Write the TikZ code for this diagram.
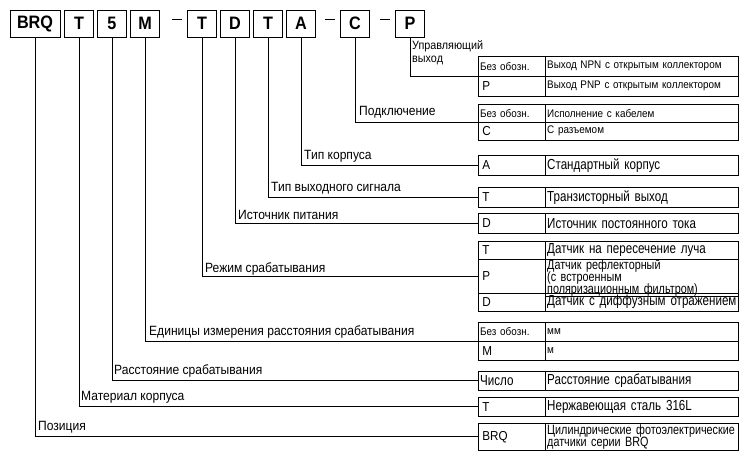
\documentclass[tikz,border=0pt]{standalone}
\usepackage{fontspec}
\setmainfont{Liberation Sans}[FakeStretch=0.9]
\newfontfamily\narrowfont{Liberation Sans}[FakeStretch=0.8]
\usetikzlibrary{positioning}

\begin{document}
\begin{tikzpicture}[x=1pt,y=-1pt,
	code/.style={draw,thick,minimum width=29pt,minimum height=27pt,inner sep=0pt,font=\fontsize{18}{18}\selectfont\bfseries},
	cl/.style={draw,anchor=north west,minimum width=67pt,inner sep=2pt,text width=63pt,align=left,font=\fontsize{11}{10}\selectfont},
	cr/.style={draw,anchor=north west,minimum width=193pt,inner sep=2pt,text width=189pt,align=left,font=\fontsize{11}{10}\selectfont},
	big/.style={font=\fontsize{13}{13}\selectfont},
	wide/.style={font=\narrowfont\fontsize{14.5}{15}\selectfont},
	multi/.style={inner ysep=0pt,font=\narrowfont\fontsize{13.5}{10}\selectfont},
	lab/.style={anchor=south west,inner sep=1pt,font=\fontsize{13.4}{13}\selectfont},
	lead/.style={semithick}]
	\useasboundingbox (0,0) rectangle (746,456);
	% code boxes
	\node[code,minimum width=50pt] (brq) at (35,23.5) {BRQ};
	\node[code] (k1) at (79,23.5) {T};
	\node[code] (k2) at (112,23.5) {5};
	\node[code] (k3) at (145,23.5) {M};
	\node[code] (k4) at (202,23.5) {T};
	\node[code] (k5) at (235,23.5) {D};
	\node[code] (k6) at (268,23.5) {T};
	\node[code] (k7) at (301,23.5) {A};
	\node[code] (k8) at (355,23.5) {C};
	\node[code] (k9) at (410,23.5) {P};
	\draw (172,19) -- (182,19) (325,19) -- (335,19) (380,19) -- (390,19);
	% tables
	\node[cl,minimum height=20pt] (a1) at (478,56) {Без обозн.};
	\node[cr,minimum height=20pt] (b1) at (545,56) {\mbox{Выход NPN с открытым коллектором}};
	\node[cl,minimum height=20pt,big] (a2) at (478,76) {\,P};
	\node[cr,minimum height=20pt] (b2) at (545,76) {\mbox{Выход PNP с открытым коллектором}};
	\node[cl,minimum height=18pt] (c1) at (478,104) {Без обозн.};
	\node[cr,minimum height=18pt] (d1) at (545,104) {Исполнение с кабелем};
	\node[cl,minimum height=18pt,big] (c2) at (478,122) {\,C};
	\node[cr,minimum height=18pt] (d2) at (545,122) {С разъемом};
	\node[cl,minimum height=20pt,big] (e1) at (478,155) {\,A};
	\node[cr,minimum height=20pt,wide] (f1) at (545,155) {Стандартный корпус};
	\node[cl,minimum height=20pt,big] (g1) at (478,187) {\,T};
	\node[cr,minimum height=20pt,wide] (h1) at (545,187) {Транзисторный выход};
	\node[cl,minimum height=20pt,big] (i1) at (478,213) {\,D};
	\node[cr,minimum height=20pt,wide] (j1) at (545,213) {\mbox{Источник постоянного тока}};
	\node[cl,minimum height=18pt,big] (m1) at (478,241) {\,T};
	\node[cr,minimum height=18pt,wide] (n1) at (545,241) {\mbox{Датчик на пересечение луча}};
	\node[cl,minimum height=34pt,big] (m2) at (478,259) {\,P};
	\node[cr,minimum height=34pt,multi] (n2) at (545,259) {\mbox{Датчик рефлекторный}\\[-1.5pt]\mbox{(с встроенным}\\[-1.5pt]\mbox{поляризационным фильтром)}};
	\node[cl,minimum height=18pt,big] (m3) at (478,293) {\,D};
	\node[cr,minimum height=18pt,wide] (n3) at (545,293) {\mbox{Датчик с диффузным отражением}};
	\node[cl,minimum height=19pt] (p1) at (478,322) {Без обозн.};
	\node[cr,minimum height=19pt] (q1) at (545,322) {мм};
	\node[cl,minimum height=19pt,big] (p2) at (478,341) {\,M};
	\node[cr,minimum height=19pt] (q2) at (545,341) {м};
	\node[cl,minimum height=19pt,wide] (r1) at (478,371) {Число};
	\node[cr,minimum height=19pt,wide] (s1) at (545,371) {\mbox{Расстояние срабатывания}};
	\node[cl,minimum height=19pt,big] (t1) at (478,397) {\,T};
	\node[cr,minimum height=19pt,wide] (u1) at (545,397) {\mbox{Нержавеющая сталь 316L}};
	\node[cl,minimum height=27pt,big] (v1) at (478,423) {\,BRQ};
	\node[cr,minimum height=27pt,multi] (w1) at (545,423) {\mbox{Цилиндрические фотоэлектрические}\\[-1.5pt]\mbox{датчики серии BRQ}};
	% leaders
	\draw[lead] (k9.south) |- (a2.north west);
	\draw[lead] (k8.south) |- (c2.north west);
	\draw[lead] (k7.south) |- (e1.west);
	\draw[lead] (k6.south) |- (g1.west);
	\draw[lead] (k5.south) |- (i1.west);
	\draw[lead] (k4.south) |- (m2.west);
	\draw[lead] (k3.south) |- (p2.north west);
	\draw[lead] (k2.south) |- (r1.west);
	\draw[lead] (k1.south) |- (t1.west);
	\draw[lead] (brq.south) |- (v1.west);
	% labels
	\node[lab,align=left,anchor=north west,font=\fontsize{12}{13}\selectfont] at (411,39) {Управляющий\\выход};
	\node[lab] at (358,119) {Подключение};
	\node[lab] at (303,163) {Тип корпуса};
	\node[lab] at (270,195) {Тип выходного сигнала};
	\node[lab] at (237,221) {Источник питания};
	\node[lab] at (204,276) {Режим срабатывания};
	\node[lab] at (148,339) {Единицы измерения расстояния срабатывания};
	\node[lab] at (113,378) {Расстояние срабатывания};
	\node[lab] at (80,404) {Материал корпуса};
	\node[lab] at (37,434) {Позиция};
\end{tikzpicture}
\end{document}
